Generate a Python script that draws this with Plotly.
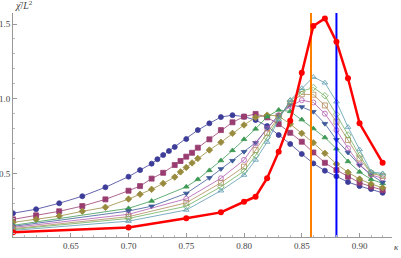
import plotly.graph_objects as go

# kappa sample points and chi/L^2 values
k_full = [0.60, 0.62, 0.64, 0.66, 0.68, 0.70, 0.71, 0.72, 0.725, 0.73, 0.735, 0.74, 0.75,
          0.76, 0.77, 0.78, 0.79, 0.80, 0.81, 0.82, 0.83, 0.84, 0.85, 0.86, 0.87, 0.88,
          0.89, 0.90, 0.91, 0.92]
chi_1 = [0.233, 0.26, 0.30, 0.347, 0.407, 0.478, 0.522, 0.565, 0.595, 0.623, 0.65, 0.677, 0.73,
         0.79, 0.835, 0.877, 0.89, 0.88, 0.857, 0.817, 0.757, 0.697, 0.63, 0.567, 0.518, 0.48,
         0.442, 0.415, 0.395, 0.37]

k_mid = [0.60, 0.62, 0.64, 0.66, 0.68, 0.70, 0.71, 0.72, 0.73, 0.74, 0.745, 0.75, 0.755,
         0.76, 0.77, 0.78, 0.79, 0.80, 0.81, 0.82, 0.83, 0.84, 0.85, 0.86, 0.87, 0.88,
         0.89, 0.90, 0.91, 0.92]
chi_2 = [0.192, 0.219, 0.246, 0.281, 0.326, 0.384, 0.415, 0.465, 0.504, 0.556, 0.583, 0.612, 0.638,
         0.672, 0.728, 0.79, 0.842, 0.88, 0.898, 0.875, 0.83, 0.772, 0.712, 0.64, 0.571, 0.522,
         0.478, 0.438, 0.411, 0.389]
chi_3 = [0.172, 0.192, 0.214, 0.246, 0.273, 0.328, 0.36, 0.393, 0.433, 0.475, 0.51, 0.54, 0.57,
         0.60, 0.656, 0.708, 0.768, 0.824, 0.875, 0.89, 0.885, 0.83, 0.768, 0.705, 0.634, 0.563,
         0.507, 0.462, 0.429, 0.404]

k_4 = [0.60, 0.70, 0.72, 0.75, 0.76, 0.77, 0.78, 0.79, 0.80, 0.81, 0.82, 0.83, 0.84, 0.85,
       0.86, 0.87, 0.88, 0.89, 0.90, 0.91, 0.92]
chi_4 = [0.152, 0.266, 0.315, 0.41, 0.46, 0.52, 0.586, 0.654, 0.728, 0.798, 0.88, 0.925, 0.915, 0.86,
         0.80, 0.74, 0.665, 0.58, 0.51, 0.46, 0.433]

k_5 = [0.60, 0.70, 0.72, 0.75, 0.77, 0.78, 0.79, 0.80, 0.81, 0.82, 0.83, 0.84, 0.85, 0.86,
       0.87, 0.88, 0.89, 0.90, 0.91, 0.92]
chi_5 = [0.145, 0.248, 0.28, 0.366, 0.47, 0.53, 0.585, 0.645, 0.705, 0.80, 0.89, 0.958, 0.945, 0.913,
         0.833, 0.725, 0.64, 0.555, 0.49, 0.44]

k_open = [0.60, 0.70, 0.75, 0.78, 0.80, 0.81, 0.82, 0.83, 0.84, 0.85, 0.86, 0.87, 0.88, 0.89,
          0.90, 0.91, 0.92]
chi_6 = [0.138, 0.226, 0.33, 0.467, 0.59, 0.70, 0.80, 0.89, 0.95, 0.99, 0.975, 0.90, 0.79, 0.668,
         0.56, 0.49, 0.467]
chi_7 = [0.13, 0.21, 0.303, 0.437, 0.545, 0.656, 0.77, 0.88, 0.97, 1.03, 1.027, 0.955, 0.846, 0.723,
         0.60, 0.50, 0.482]
chi_8 = [0.125, 0.198, 0.28, 0.41, 0.515, 0.62, 0.74, 0.87, 0.985, 1.05, 1.075, 1.02, 0.895, 0.757,
         0.62, 0.505, 0.49]
chi_9 = [0.118, 0.18, 0.255, 0.384, 0.489, 0.59, 0.71, 0.86, 0.99, 1.07, 1.145, 1.107, 0.98, 0.81,
         0.66, 0.51, 0.50]

k_red = [0.60, 0.70, 0.75, 0.78, 0.80, 0.81, 0.82, 0.83, 0.84, 0.85, 0.86, 0.87, 0.88, 0.89,
         0.90, 0.92]
chi_red = [0.105, 0.138, 0.199, 0.239, 0.31, 0.344, 0.468, 0.645, 0.853, 1.174, 1.487, 1.538, 1.382,
           1.137, 0.835, 0.571]

k_orange = 0.858
k_blue = 0.88

# mathematica-ish default palette
series = [
    (k_full, chi_1, "#3d3d99", "circle"),
    (k_mid, chi_2, "#993d71", "square"),
    (k_mid, chi_3, "#998b3d", "diamond"),
    (k_4, chi_4, "#3d9953", "triangle-up"),
    (k_5, chi_5, "#3d5a99", "triangle-down"),
    (k_open, chi_6, "#b05cb0", "circle-open"),
    (k_open, chi_7, "#b08a5c", "square-open"),
    (k_open, chi_8, "#6fb05c", "diamond-open"),
    (k_open, chi_9, "#5c9bb0", "triangle-up-open"),
]

ymin, ymax = 0.074, 1.574

fig = go.Figure()
for xs, ys, col, sym in series:
    fig.add_trace(go.Scatter(x=xs, y=ys, mode="lines+markers",
                             line=dict(color=col, width=0.8),
                             marker=dict(symbol=sym, size=5, color=col,
                                         line=dict(width=0.8, color=col)),
                             showlegend=False))

fig.add_trace(go.Scatter(x=[k_orange, k_orange], y=[ymin, ymax], mode="lines",
                         line=dict(color="#ff8000", width=2), showlegend=False))
fig.add_trace(go.Scatter(x=[k_blue, k_blue], y=[ymin, ymax], mode="lines",
                         line=dict(color="#0000ff", width=2), showlegend=False))

fig.add_trace(go.Scatter(x=k_red, y=chi_red, mode="lines+markers",
                         line=dict(color="#ff0000", width=2.5),
                         marker=dict(symbol="circle", size=6, color="#ff0000"),
                         showlegend=False))

axfont = dict(family="Liberation Serif", size=9, color="#444")
fig.update_layout(
    width=401, height=258,
    margin=dict(l=13, r=9, t=13, b=21),
    plot_bgcolor="white", paper_bgcolor="white",
    hovermode=False,
    xaxis=dict(range=[0.6, 0.9281], showgrid=False, zeroline=False, automargin=False,
               showline=True, linecolor="#999", linewidth=1,
               tickvals=[0.65, 0.70, 0.75, 0.80, 0.85, 0.90],
               ticktext=["0.65", "0.70", "0.75", "0.80", "0.85", "0.90"],
               ticks="inside", ticklen=4, tickcolor="#999", tickfont=axfont,
               minor=dict(ticks="inside", ticklen=2, tickcolor="#bbb", dtick=0.01, tick0=0.6)),
    yaxis=dict(range=[ymin, ymax], showgrid=False, zeroline=False, automargin=False,
               showline=True, linecolor="#999", linewidth=1,
               tickvals=[0.5, 1.0, 1.5], ticktext=["0.5", "1.0", "1.5"],
               ticks="inside", ticklen=4, tickcolor="#999", tickfont=axfont,
               minor=dict(ticks="inside", ticklen=2, tickcolor="#bbb", dtick=0.1, tick0=0.0)),
    annotations=[
        dict(text="<i>χ̄</i>/<i>L</i><sup>2</sup>", xref="paper", yref="paper", x=0, y=1,
             xanchor="left", yanchor="bottom", showarrow=False,
             font=dict(family="Liberation Serif", size=10, color="#444")),
        dict(text="<i>κ</i>", xref="paper", yref="paper", x=1, y=0,
             xanchor="left", yanchor="top", xshift=0, yshift=-3, showarrow=False,
             font=dict(family="Liberation Serif", size=9, color="#444")),
    ],
)

# the page body has a default 8px margin, drop it so the figure sits at 0,0
fig.write_html("out.html", config={"displayModeBar": False},
               post_script="document.body.style.margin='0';")
